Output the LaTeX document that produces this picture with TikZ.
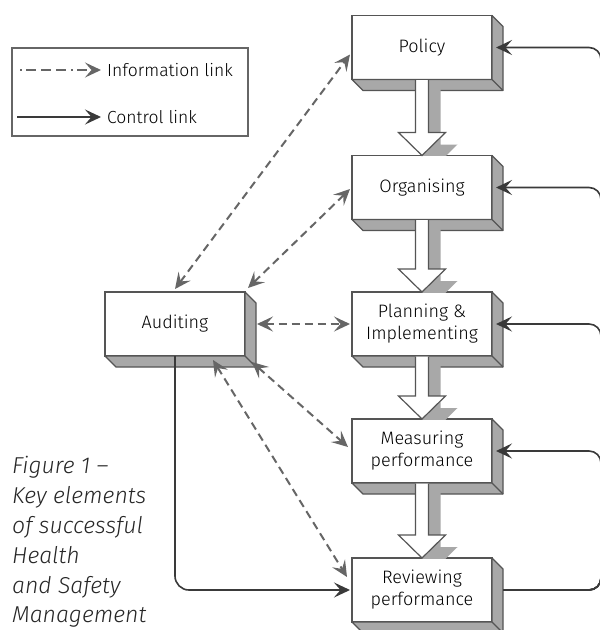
\documentclass[tikz,border=0pt]{standalone}
\usepackage{fontspec}
\setmainfont{Fira Sans Light}[ItalicFont={Fira Sans Light Italic}]
\usetikzlibrary{arrows.meta,calc}
\definecolor{edgec}{HTML}{555555}
\definecolor{facec}{HTML}{A8A8A8}
\definecolor{dashc}{HTML}{666666}
\definecolor{ctrlc}{HTML}{3A3A3A}
\tikzset{
  box/.style={draw=edgec, line width=1.3pt, fill=white, minimum width=140pt,
    minimum height=64pt, inner sep=0pt, outer sep=0pt, align=center,
    font=\fontsize{18}{22}\selectfont},
  facestyle/.style={fill=facec, draw=edgec, line width=1.3pt, line join=round},
  itip/.tip={Stealth[length=16pt,width=15pt,inset=6.5pt,color=dashc]},
  ctip/.tip={Stealth[length=16pt,width=15pt,inset=6.5pt,color=ctrlc]},
  infolink/.style={draw=dashc, line width=2pt, dash pattern=on 8pt off 5pt, itip-itip},
  ctrllink/.style={draw=ctrlc, line width=1.6pt, -ctip, rounded corners=12pt},
  legtext/.style={anchor=west, inner sep=0pt, font=\fontsize{17.5}{21}\selectfont},
  captext/.style={anchor=base west, inner sep=0pt, font=\fontsize{23}{27}\selectfont\itshape, text=black!85},
}
\newcommand\extrude[1]{%
  \filldraw[facestyle] (#1.north east) -- ([xshift=11pt,yshift=-11pt]#1.north east)
    -- ([xshift=11pt,yshift=-11pt]#1.south east) -- ([xshift=11pt,yshift=-11pt]#1.south west)
    -- (#1.south west) -- (#1.south east) -- cycle;
  \draw[edgec, line width=1.3pt] (#1.south east) -- ([xshift=11pt,yshift=-11pt]#1.south east);}
\newcommand\hollow[2]{%
  \begin{scope}
    \clip ([xshift=-100pt]#2.north) rectangle ([xshift=100pt]#1.south);
    \fill[facec] ([xshift=5.5pt,yshift=-1pt]#1.south) -- ([xshift=5.5pt,yshift=11pt]#2.north)
      -- ([xshift=-11.5pt,yshift=11pt]#2.north) -- ([xshift=12pt,yshift=-12pt]#2.north)
      -- ([xshift=35.5pt,yshift=11pt]#2.north) -- ([xshift=18.5pt,yshift=11pt]#2.north)
      -- ([xshift=18.5pt,yshift=-1pt]#1.south) -- cycle;
  \end{scope}
  \filldraw[fill=white, draw=edgec, line width=1.2pt, line join=miter]
    ([xshift=-6.5pt,yshift=-0.7pt]#1.south) -- ([xshift=-6.5pt,yshift=23pt]#2.north)
    -- ([xshift=-23.5pt,yshift=23pt]#2.north) -- (#2.north)
    -- ([xshift=23.5pt,yshift=23pt]#2.north) -- ([xshift=6.5pt,yshift=23pt]#2.north)
    -- ([xshift=6.5pt,yshift=-0.7pt]#1.south);}
\begin{document}
\begin{tikzpicture}[x=1pt,y=-1pt]
\useasboundingbox (0,0) rectangle (600,630);
\fill[white] (0,0) rectangle (600,630);
% legend
\node[draw=dashc, line width=1.4pt, minimum width=236pt, minimum height=88pt, inner sep=0pt] (leg) at (130,92) {};
\coordinate (ia) at (20,70);
\coordinate (ib) at (101,70);
\coordinate (ca) at (17,117);
\coordinate (cb) at (101,117);
\draw[draw=dashc, line width=1.8pt, dash pattern=on 2pt off 4pt on 10pt off 5pt on 10pt off 5pt on 10pt off 5pt, -itip] (ia) -- (ib);
\draw[ctrllink] (ca) -- (cb);
\node[legtext] (lt1) at (107,70) {Information link};
\node[legtext] (lt2) at (107,117) {Control link};
% boxes
\node[box] (pol) at (422,47.5) {Policy};
\node[box] (org) at (422,187.5) {Organising};
\node[box] (pla) at (422,324) {Planning \&\\Implementing};
\node[box] (mea) at (422,451) {Measuring\\performance};
\node[box] (rev) at (422,590) {Reviewing\\performance};
\node[box] (aud) at (175,324) {Auditing};
\extrude{pol}\extrude{org}\extrude{pla}\extrude{mea}\extrude{rev}\extrude{aud}
% hollow arrows
\hollow{pol}{org}
\hollow{org}{pla}
\hollow{pla}{mea}
\hollow{mea}{rev}
% information links
\draw[infolink] ([yshift=3pt]aud.north) -- ([xshift=-2pt,yshift=-7pt]pol.west);
\draw[infolink] ([xshift=3pt,yshift=4pt]aud.north east) -- ([xshift=-2pt,yshift=-1.5pt]org.west);
\draw[infolink] ([xshift=12pt]aud.east) -- ([xshift=-2pt]pla.west);
\draw[infolink] ([xshift=7pt,yshift=-6pt]aud.south east) -- ([xshift=-4pt,yshift=4pt]mea.west);
\draw[infolink] ([xshift=38pt,yshift=-4pt]aud.south) -- ([xshift=-5pt,yshift=13pt]rev.west);
% control links
\coordinate (rail) at (601,0);
\foreach \b in {pol,org,pla,mea}{
  \draw[ctrllink] ([xshift=11pt]rev.east) -| (rail |- \b.east) -- ([xshift=4pt]\b.east);
}
\draw[ctrllink, rounded corners=14pt] (aud.south) |- ([xshift=-2pt]rev.west);
% caption
\node[captext] (c1) at (12,473) {Figure 1 –};
\node[captext] (c2) at (12,503) {Key elements};
\node[captext] (c3) at (12,533) {of successful};
\node[captext] (c4) at (12,563) {Health};
\node[captext] (c5) at (12,593) {and Safety};
\node[captext] (c6) at (12,622) {Management};
\end{tikzpicture}
\end{document}
